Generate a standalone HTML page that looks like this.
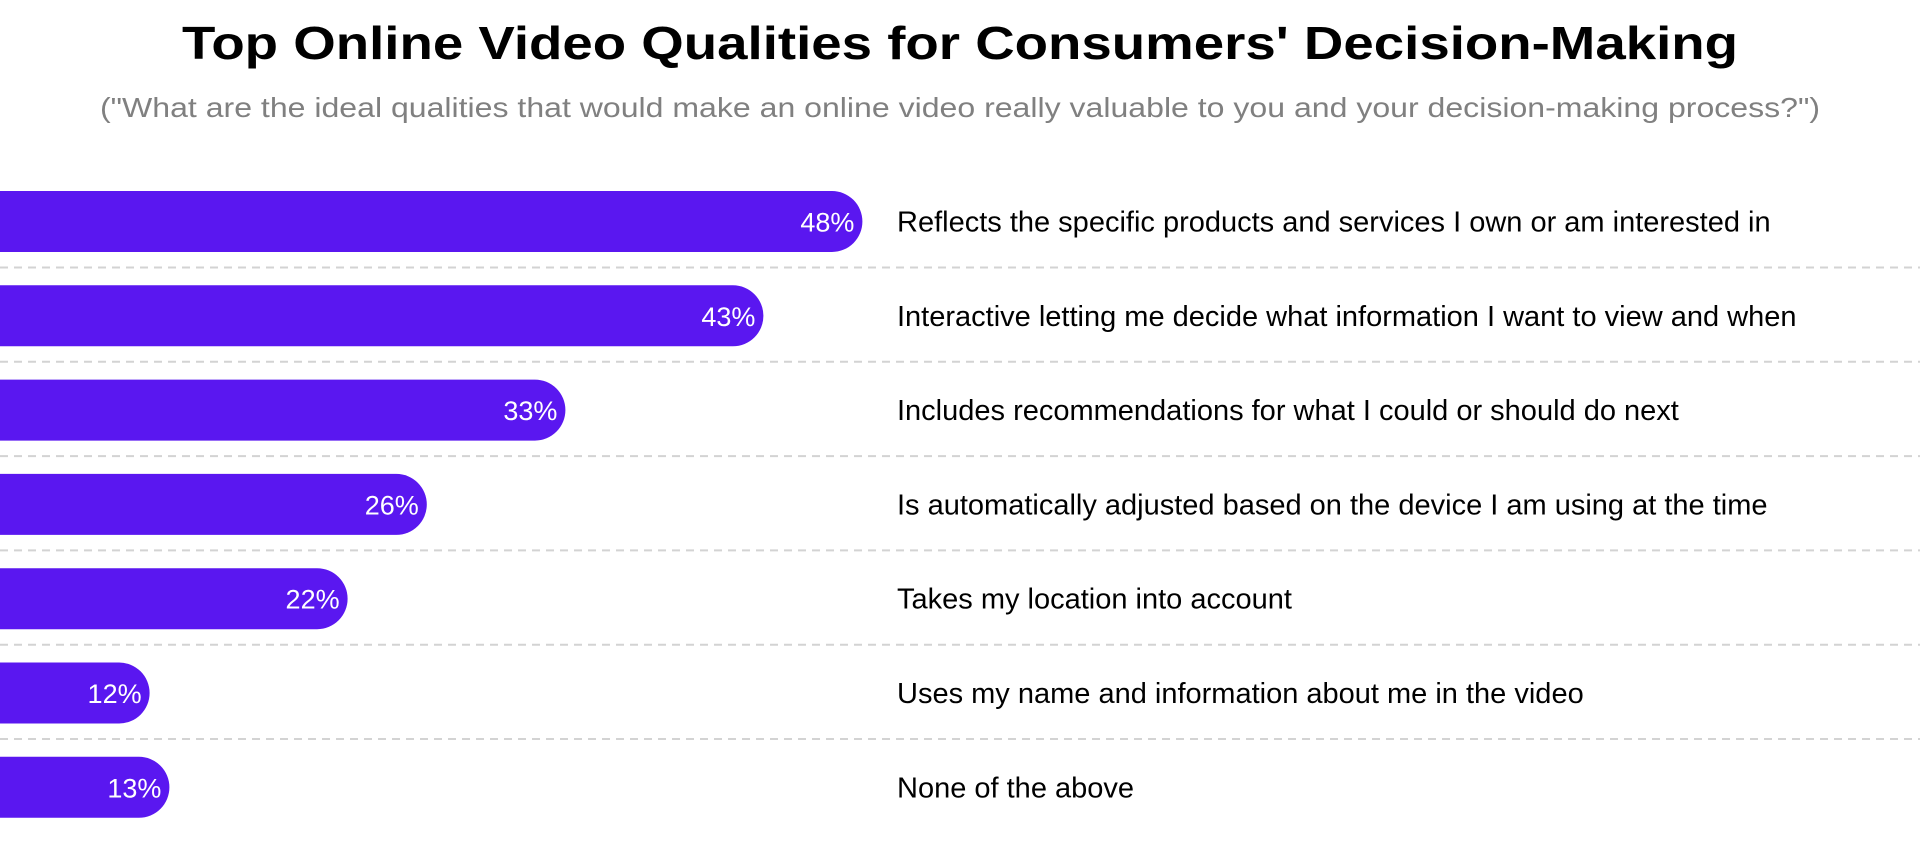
<!DOCTYPE html>
<html><head><meta charset="utf-8"><style>
html,body{margin:0;padding:0;background:#fff;width:1920px;height:857px;overflow:hidden}
svg{display:block;font-family:"Liberation Sans",sans-serif}
</style></head><body>
<svg id="chart" width="1920" height="857" viewBox="0 0 1920 857">
<text x="960" y="59" text-anchor="middle" font-size="46" font-weight="bold" fill="#000" textLength="1556" lengthAdjust="spacingAndGlyphs">Top Online Video Qualities for Consumers' Decision-Making</text>
<text x="960" y="117" text-anchor="middle" font-size="28" fill="#808080" textLength="1720" lengthAdjust="spacingAndGlyphs">("What are the ideal qualities that would make an online video really valuable to you and your decision-making process?")</text>
<g id="rows"></g>
</svg>
<script>
const categories = [
  "Reflects the specific products and services I own or am interested in",
  "Interactive letting me decide what information I want to view and when",
  "Includes recommendations for what I could or should do next",
  "Is automatically adjusted based on the device I am using at the time",
  "Takes my location into account",
  "Uses my name and information about me in the video",
  "None of the above"
];
const values = [48, 43, 33, 26, 22, 12, 13];
const valueLabels = ["48%", "43%", "33%", "26%", "22%", "12%", "13%"];

const NS = "http://www.w3.org/2000/svg";
const g = document.getElementById("rows");
const xScale = v => -88 + v * 19.8;
const rowTop = i => 191 + i * 94.3;
const barH = 61;
function mk(tag, attrs){const e=document.createElementNS(NS,tag);for(const k in attrs)e.setAttribute(k,attrs[k]);return e;}
categories.forEach((c, i) => {
  const y = rowTop(i);
  const w = xScale(values[i]);
  const r = barH/2;
  const bar = mk("path", {d:`M-10 ${y} H${w-r} A${r} ${r} 0 0 1 ${w-r} ${y+barH} H-10 Z`, fill:"#5a17f0"});
  
  
  g.appendChild(bar);
  const vl = mk("text", {x:w-8, y:y+barH/2+10, "text-anchor":"end", "font-size":"27", fill:"#fff"});
  vl.textContent = valueLabels[i];
  
  
  g.appendChild(vl);
  const cl = mk("text", {x:897, y:y+barH/2+10, "font-size":"29", fill:"#000"});
  cl.textContent = c;
  
  
  g.appendChild(cl);
  if (i < categories.length - 1) {
    const ly = y + barH + 15.5;
    const ln = mk("line", {x1:0, x2:1920, y1:ly, y2:ly, stroke:"#d3d3d3", "stroke-width":"2", "stroke-dasharray":"8 6"});
    
    
    g.appendChild(ln);
  }
});
</script>
</body></html>
